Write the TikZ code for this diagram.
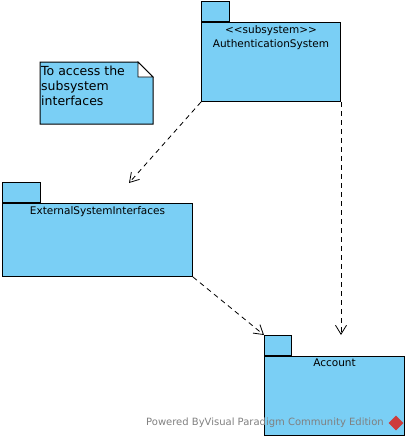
\documentclass[tikz,border=0pt]{standalone}
\usepackage{fontspec}
\setmainfont{DejaVu Sans}
\usetikzlibrary{arrows.meta,positioning}
\definecolor{pkgblue}{RGB}{122,207,245}
\definecolor{markgray}{RGB}{128,128,128}
\definecolor{markred}{RGB}{205,60,60}
\tikzset{
  pkgbody/.style={draw=black, fill=pkgblue, line width=1pt, inner sep=0pt},
  pkgtab/.style={pkgbody, minimum width=28pt, minimum height=20pt, anchor=south west},
  pkgtitle/.style={anchor=north, inner sep=0pt, font=\fontsize{10.5}{14}\selectfont},
  depend/.style={dashed, dash pattern=on 5pt off 4pt, line width=0.8pt,
    -{Straight Barb[length=9pt,width=11pt,line width=0.8pt]}}
}
\begin{document}
\begin{tikzpicture}[x=1pt, y=-1pt]
  \useasboundingbox (0,0) rectangle (408,440);
  % note
  \draw[pkgbody] (40,62) -- (138,62) -- (153,77) -- (153,124) -- (40,124) -- cycle;
  \draw[line width=0.8pt, fill=white] (138,62) -- (138,77) -- (153,77) -- cycle;
  \node[anchor=north west, inner sep=0pt, align=left,
    font=\fontsize{12.5}{15}\selectfont] (note) at (41,66)
    {To access the\\subsystem\\interfaces};
  % packages
  \node[pkgbody, minimum width=139pt, minimum height=79pt, anchor=north west]
    (auth) at (201,22) {};
  \node[pkgtab] (auth-tab) at (auth.north west) {};
  \node[pkgtitle, align=center]
    (auth-title) at ([yshift=-3pt]auth.north)
    {<\kern0pt<subsystem>\kern0pt>\\AuthenticationSystem};
  \node[pkgbody, minimum width=190pt, minimum height=73pt, anchor=north west]
    (ext) at (2,203) {};
  \node[pkgtab, minimum width=38pt] (ext-tab) at (ext.north west) {};
  \node[pkgtitle] (ext-title) at ([yshift=-3pt]ext.north) {ExternalSystemInterfaces};
  \node[pkgbody, minimum width=140pt, minimum height=79pt, anchor=north west]
    (acc) at (264,356) {};
  \node[pkgtab, minimum width=27pt] (acc-tab) at (acc.north west) {};
  \node[pkgtitle] (acc-title) at ([yshift=-3pt]acc.north) {Account};
  % dependencies
  \coordinate (ext-tip) at (129,183);
  \draw[depend] (auth.south west) -- (ext-tip);
  \draw[depend] (auth.south east) -- (auth.south east |- acc-tab.north);
  \draw[depend] (ext.south east) -- (acc-tab.north west);
  % watermark
  \node[anchor=west, inner sep=0pt, text=markgray, font=\fontsize{10}{12}\selectfont]
    (mark) at (146,423) {Powered ByVisual Paradigm Community Edition};
  \draw[fill=markred, draw=markred] (396,416) -- (403,423) -- (396,430) -- (389,423) -- cycle;
\end{tikzpicture}
\end{document}
